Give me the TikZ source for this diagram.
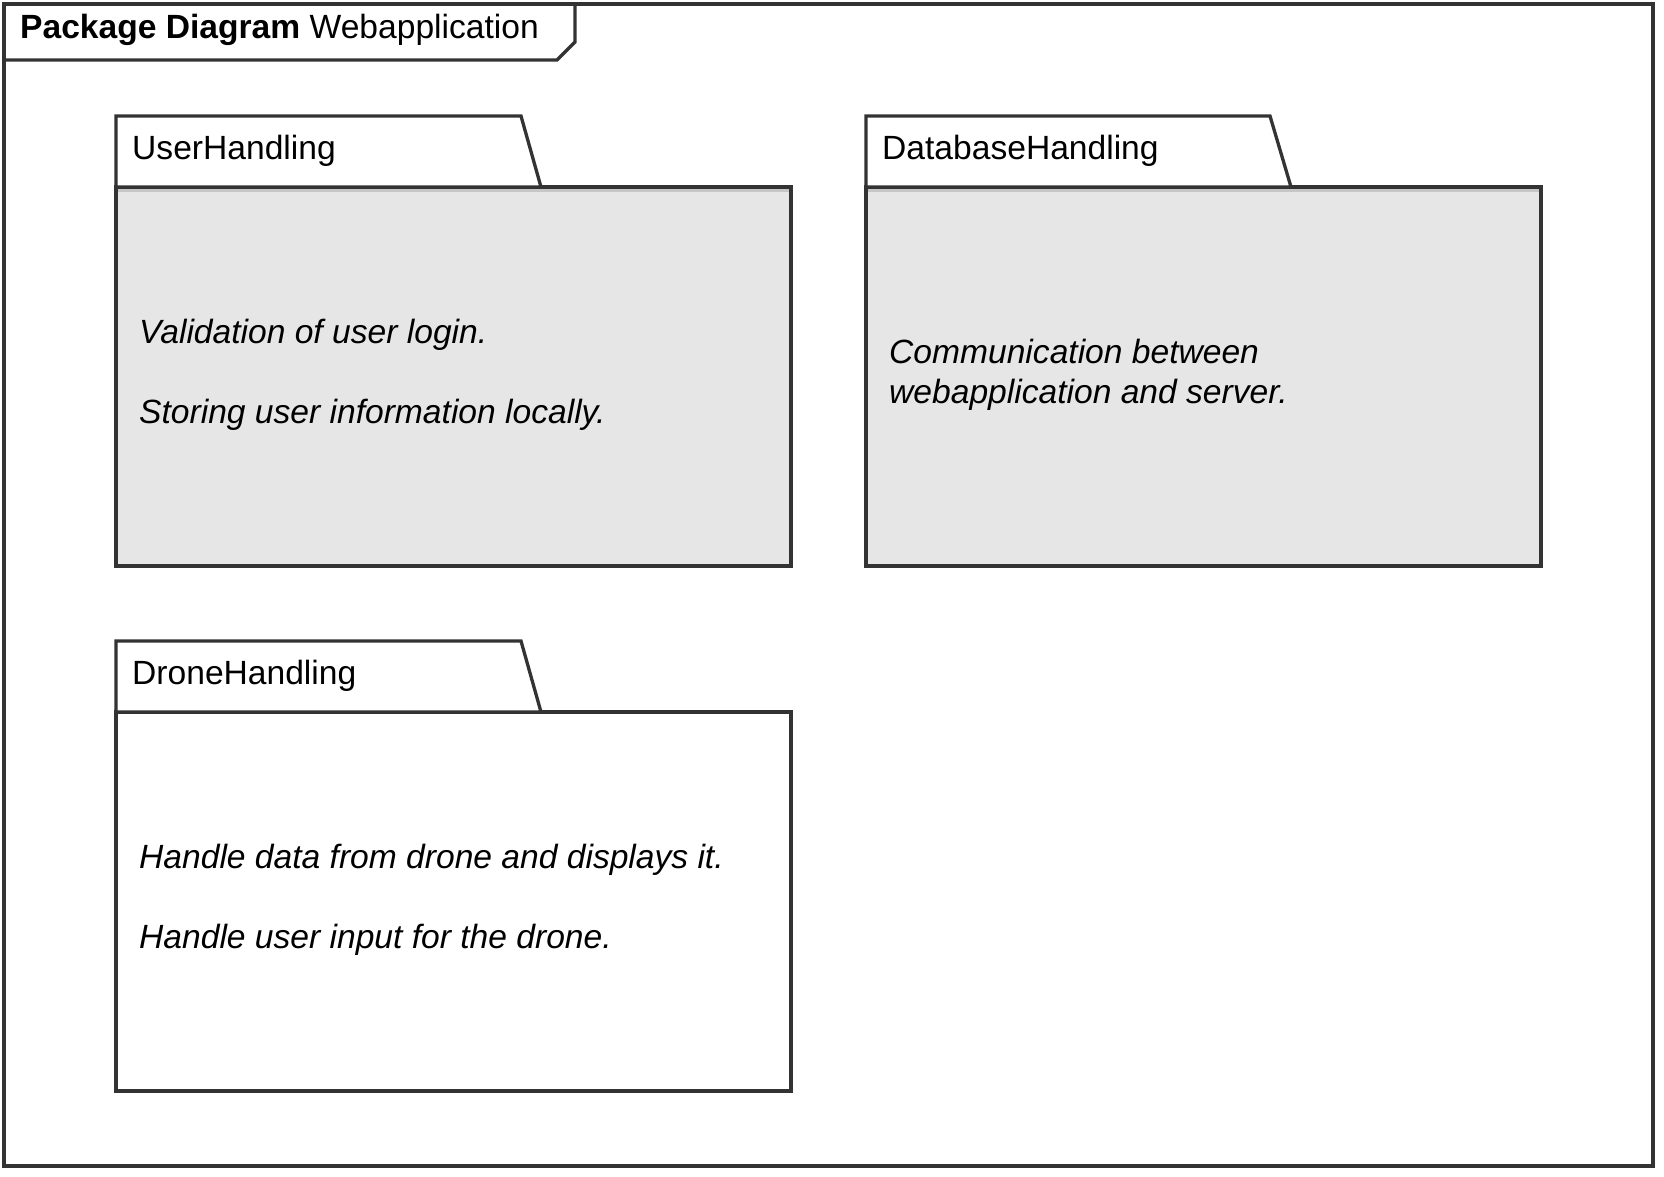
\documentclass[tikz,border=0pt]{standalone}
\usepackage{fontspec}
\setmainfont{Liberation Sans}
\definecolor{edge}{HTML}{333333}
\definecolor{pkgfill}{HTML}{E6E6E6}
\definecolor{band}{HTML}{C6C6C6}
\tikzset{
  frameline/.style={draw=edge, line width=3.4pt, line join=miter},
  pkgline/.style={draw=edge, line width=3.3pt, line join=miter},
  lbl/.style={anchor=base west, inner sep=0pt, font=\fontsize{33.6}{40}\selectfont, text=black},
  desc/.style={lbl, font=\fontsize{33.6}{40}\selectfont\itshape},
}
\begin{document}
\begin{tikzpicture}[x=1pt,y=-1pt]
\useasboundingbox (0,0) rectangle (1664,1176);
\fill[white] (0,0) rectangle (1664,1176);
% outer frame
\draw[frameline] (4,4) rectangle (1653,1166);
\draw[frameline] (4,60) -- (557,60) -- (575,42) -- (575,4);
\node[lbl] (title) at (20,38) {\textbf{Package Diagram} Webapplication};

% UserHandling
\fill[pkgfill] (116,187) rectangle (791,566);
\draw[band, line width=3.5pt] (117.5,190.5) -- (789.5,190.5);
\draw[pkgline] (116,187) rectangle (791,566);
\draw[pkgline, fill=white] (116,187) -- (116,116) -- (521,116) -- (541,187) -- cycle;
\node[lbl] (uh) at (132,159) {UserHandling};
\node[desc] (uh1) at (139,343) {Validation of user login.};
\node[desc] (uh2) at (139,423) {Storing user information locally.};

% DatabaseHandling
\fill[pkgfill] (866,187) rectangle (1541,566);
\draw[band, line width=3.5pt] (867.5,190.5) -- (1539.5,190.5);
\draw[pkgline] (866,187) rectangle (1541,566);
\draw[pkgline, fill=white] (866,187) -- (866,116) -- (1270,116) -- (1291,187) -- cycle;
\node[lbl] (dbh) at (882,159) {DatabaseHandling};
\node[desc] (dbh1) at (889,363) {Communication between};
\node[desc] (dbh2) at (889,403) {webapplication and server.};

% DroneHandling
\draw[pkgline, fill=white] (116,712) rectangle (791,1091);
\draw[pkgline, fill=white] (116,712) -- (116,641) -- (521,641) -- (541,712) -- cycle;
\node[lbl] (drh) at (132,684) {DroneHandling};
\node[desc] (drh1) at (139,868) {Handle data from drone and displays it.};
\node[desc] (drh2) at (139,948) {Handle user input for the drone.};
\end{tikzpicture}
\end{document}
